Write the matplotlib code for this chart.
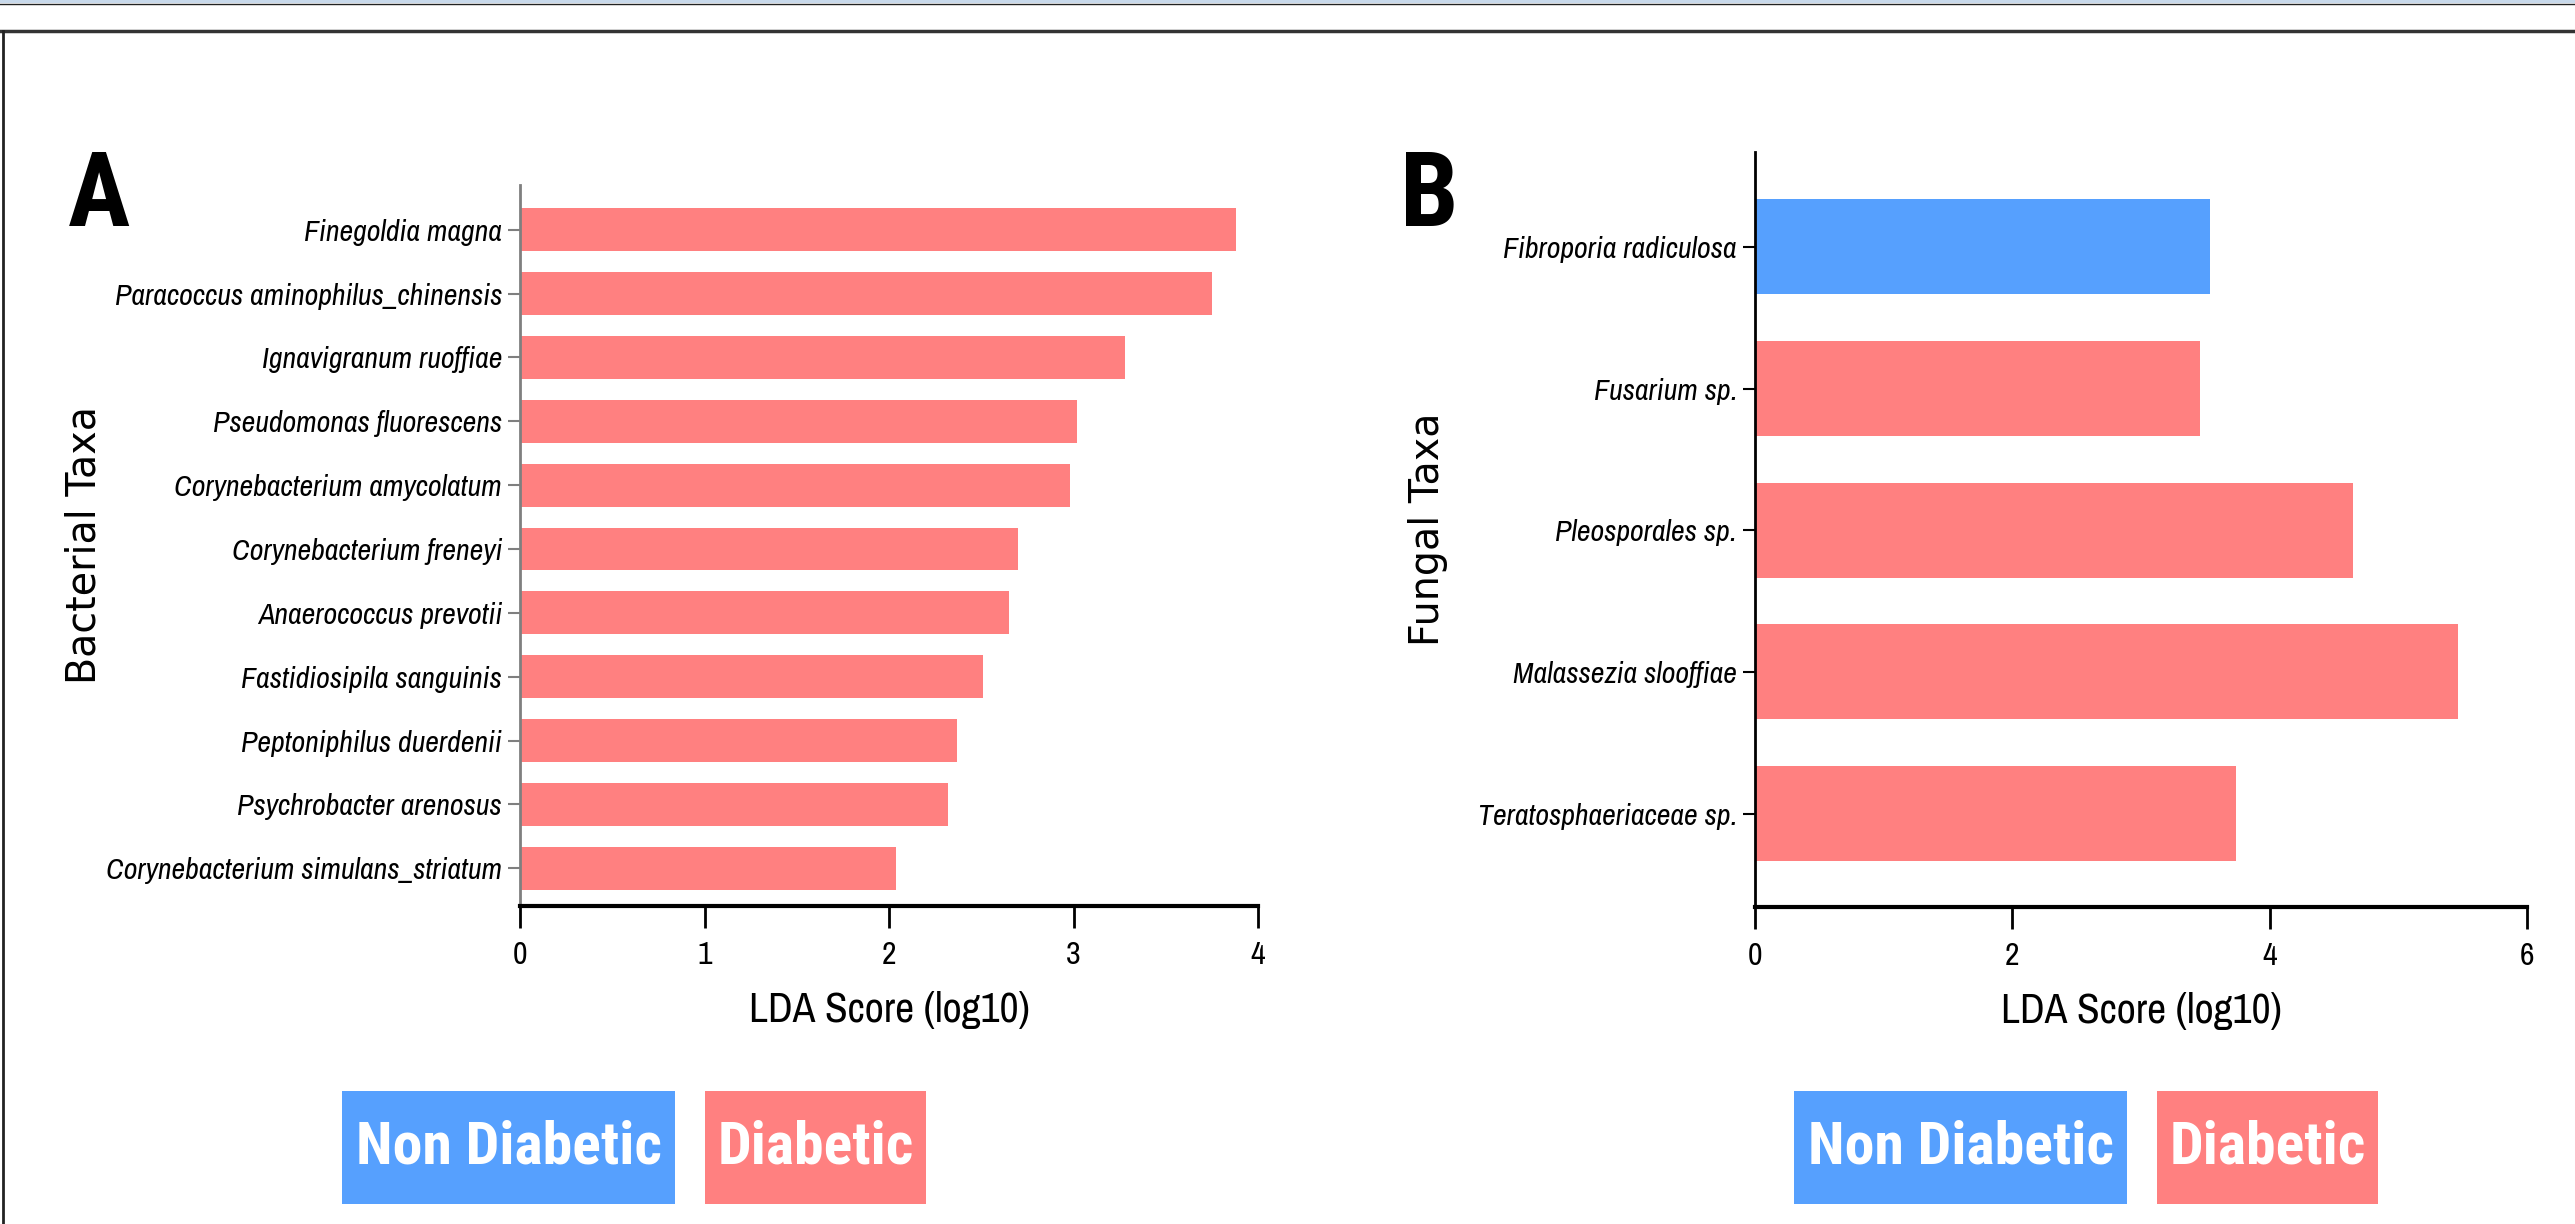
import matplotlib
matplotlib.use('Agg')
import matplotlib.pyplot as plt
from matplotlib.patches import Rectangle
from matplotlib.lines import Line2D

# Data: LEfSe results, LDA score (log10)
bact_taxa = ['Finegoldia magna', 'Paracoccus aminophilus_chinensis', 'Ignavigranum ruoffiae',
             'Pseudomonas fluorescens', 'Corynebacterium amycolatum', 'Corynebacterium freneyi',
             'Anaerococcus prevotii', 'Fastidiosipila sanguinis', 'Peptoniphilus duerdenii',
             'Psychrobacter arenosus', 'Corynebacterium simulans_striatum']
bact_lda = [3.88, 3.75, 3.28, 3.02, 2.98, 2.70, 2.65, 2.51, 2.37, 2.32, 2.04]
bact_group = ['Diabetic'] * 11

fung_taxa = ['Fibroporia radiculosa', 'Fusarium sp.', 'Pleosporales sp.',
             'Malassezia slooffiae', 'Teratosphaeriaceae sp.']
fung_lda = [3.54, 3.46, 4.65, 5.46, 3.74]
fung_group = ['Non Diabetic', 'Diabetic', 'Diabetic', 'Diabetic', 'Diabetic']

groups = ['Non Diabetic', 'Diabetic']
group_colors = {'Non Diabetic': '#56A0FE', 'Diabetic': '#FF8080'}

# Fonts
narrow = 'Archivo Narrow'
cond = 'Roboto Condensed'
plain = 'DejaVu Sans'

W, H = 2575, 1224
fig = plt.figure(figsize=(W / 100, H / 100), dpi=100)


def fx(px):
    return px / W


def fy(py):
    return 1 - py / H


def lda_panel(rect, taxa, lda, grp, xmax, xstep, ylim, ylabel, ylabel_x, spine_col):
    ax = fig.add_axes(rect)
    n = len(taxa)
    ypos = [n - 1 - i for i in range(n)]
    ax.barh(ypos, lda, height=0.67, color=[group_colors[g] for g in grp], edgecolor='none')
    ax.set_yticks(ypos)
    ax.set_yticklabels(taxa, family=narrow, style='italic', fontsize=21.6)
    ax.set_xlim(0, xmax)
    ax.set_ylim(*ylim)
    ax.set_xticks(range(0, xmax + 1, xstep))
    ax.set_xticklabels([str(v) for v in range(0, xmax + 1, xstep)], family=narrow, fontsize=23)
    ax.tick_params(axis='x', length=16, width=2, pad=9, color='black')
    ax.tick_params(axis='y', length=9, width=1.5, pad=4, color=spine_col)
    for pos in ['top', 'right']:
        ax.spines[pos].set_visible(False)
    ax.spines['left'].set_color(spine_col)
    ax.spines['left'].set_linewidth(2)
    ax.spines['bottom'].set_linewidth(3)
    ax.set_xlabel('LDA Score (log10)', family=narrow, fontsize=30, labelpad=16)
    ax.set_ylabel(ylabel, family=plain, fontsize=28.5)
    ax.yaxis.set_label_coords(ylabel_x, 0.5)
    return ax


# Panel A: bacteria
axA = lda_panel([fx(520), fy(906), fx(1258 - 520), (906 - 185) / H],
                bact_taxa, bact_lda, bact_group, 4, 1, (-0.59, 10.70),
                'Bacterial Taxa', -0.563, '#7f7f7f')
# Panel B: fungi
axB = lda_panel([fx(1755), fy(907), fx(2527 - 1755), (907 - 152) / H],
                fung_taxa, fung_lda, fung_group, 6, 2, (-0.66, 4.67),
                'Fungal Taxa', -0.398, 'black')

# Panel letters
fig.text(fx(68), fy(148), 'A', family=cond, weight='bold', fontsize=75, ha='left', va='top')
fig.text(fx(1400), fy(148), 'B', family=cond, weight='bold', fontsize=75, ha='left', va='top')

# Coloured-box legends under each panel
legend_boxes = [
    [(342, 675), (705, 926)],
    [(1794, 2127), (2157, 2378)],
]
for boxes in legend_boxes:
    for g, (x0, x1) in zip(groups, boxes):
        fig.add_artist(Rectangle((fx(x0), fy(1204)), fx(x1 - x0), (1204 - 1091) / H,
                                 transform=fig.transFigure, facecolor=group_colors[g],
                                 edgecolor='none'))
        fig.text(fx((x0 + x1) / 2), fy(1147), g, color='white', family=cond,
                 weight='bold', fontsize=43, ha='center', va='center')

# Window frame lines
fig.add_artist(Rectangle((0, fy(3)), 1, 3 / H, transform=fig.transFigure,
                         facecolor='#C8D9EB', edgecolor='none'))
fig.add_artist(Line2D([0, 1], [fy(3.5), fy(3.5)], transform=fig.transFigure, color='#222222', lw=1))
fig.add_artist(Line2D([0, 1], [fy(31), fy(31)], transform=fig.transFigure, color='#333333', lw=2.5))
fig.add_artist(Line2D([fx(2.5), fx(2.5)], [fy(31), 0], transform=fig.transFigure, color='#222222', lw=2))

fig.savefig('out.png', dpi=100)
